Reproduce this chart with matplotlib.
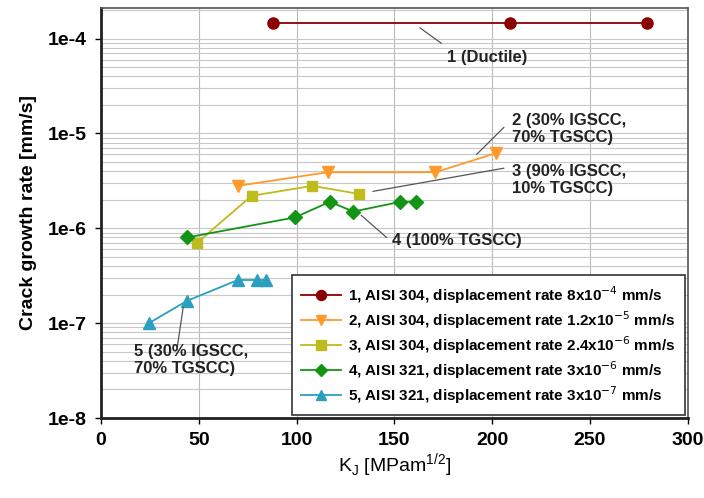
import matplotlib
matplotlib.use('Agg')
import matplotlib.pyplot as plt
from matplotlib.ticker import LogLocator, FixedLocator

plt.rcParams['font.family'] = ['Liberation Sans', 'DejaVu Sans']

# K_J [MPam^1/2] and crack growth rate [mm/s] per test
k1 = [88, 209, 279]
v1 = [1.45e-4, 1.45e-4, 1.45e-4]
k2 = [70, 116, 171, 202]
v2 = [2.8e-6, 3.9e-6, 3.9e-6, 6.2e-6]
k3 = [49, 77, 108, 132]
v3 = [0.7e-6, 2.2e-6, 2.8e-6, 2.3e-6]
k4 = [44, 99, 117, 129, 153, 161]
v4 = [0.8e-6, 1.3e-6, 1.9e-6, 1.5e-6, 1.9e-6, 1.9e-6]
k5 = [24.5, 44, 70, 79.5, 84.5]
v5 = [1.0e-7, 1.72e-7, 2.85e-7, 2.85e-7, 2.85e-7]

labels = [
    r'1, AISI 304, displacement rate 8x10$^{-4}$ mm/s',
    r'2, AISI 304, displacement rate 1.2x10$^{-5}$ mm/s',
    r'3, AISI 304, displacement rate 2.4x10$^{-6}$ mm/s',
    r'4, AISI 321, displacement rate 3x10$^{-6}$ mm/s',
    r'5, AISI 321, displacement rate 3x10$^{-7}$ mm/s',
]

fig = plt.figure(figsize=(7.04, 4.98), dpi=100)
ax = fig.add_axes([0.1435, 0.1606, 0.8335, 0.8234])

ax.plot(k1, v1, '-o', color='#8b0000', ms=8, lw=1.3, label=labels[0])
ax.plot(k2, v2, '-v', color='#ff9a2a', ms=8, lw=1.3, label=labels[1])
ax.plot(k3, v3, '-s', color='#bdbb1e', ms=7.5, lw=1.3, label=labels[2])
ax.plot(k4, v4, '-D', color='#149414', ms=7, lw=1.3, label=labels[3])
ax.plot(k5, v5, '-^', color='#2a9fbf', ms=8, lw=1.3, label=labels[4])

ax.set_yscale('log')
ax.set_xlim(0, 300)
ax.set_ylim(1e-8, 2.1e-4)
ax.xaxis.set_major_locator(FixedLocator([0, 50, 100, 150, 200, 250, 300]))
ax.yaxis.set_minor_locator(LogLocator(base=10, subs=range(2, 10), numticks=20))
ax.set_yticks([1e-8, 1e-7, 1e-6, 1e-5, 1e-4])
ax.set_yticklabels(['1e-8', '1e-7', '1e-6', '1e-5', '1e-4'])
ax.tick_params(axis='y', which='minor', length=0)
ax.tick_params(axis='both', which='major', length=4, width=1, labelsize=14, pad=6)
for t in ax.get_xticklabels() + ax.get_yticklabels():
    t.set_fontweight('bold')

ax.grid(True, axis='x', which='major', color='#b8b8b8', lw=0.8)
ax.grid(True, axis='y', which='both', color='#c8c8c8', lw=0.8)
ax.set_axisbelow(True)
for side in ['left', 'bottom']:
    ax.spines[side].set_linewidth(2)
    ax.spines[side].set_color('#222222')
for side in ['top', 'right']:
    ax.spines[side].set_linewidth(1.2)
    ax.spines[side].set_color('#555555')

ax.set_xlabel(r'K$_\mathregular{J}$ [MPam$^\mathregular{1/2}$]', fontsize=14, labelpad=2)
ax.set_ylabel('Crack growth rate [mm/s]', fontsize=14, fontweight='bold', labelpad=8)

# leader lines from curves to their notes
lkw = dict(arrowstyle='-', color='#555555', lw=0.9, shrinkA=0, shrinkB=0)
leaders = [((163, 1.3e-4), (174, 8.9e-5)),
           ((206, 1.16e-5), (192, 6.0e-6)),
           ((206, 4.3e-6), (139, 2.45e-6)),
           ((133, 1.37e-6), (146, 8.0e-7)),
           ((42, 1.47e-7), (39, 5.6e-8))]
for p0, p1 in leaders:
    ax.annotate('', xy=p1, xytext=p0, arrowprops=lkw)

tkw = dict(fontsize=12, fontweight='bold', color='#222222', ha='left', va='center',
           linespacing=1.15)
ax.text(177, 6.3e-5, '1 (Ductile)', **tkw)
ax.text(210, 1.12e-5, '2 (30% IGSCC,\n70% TGSCC)', **tkw)
ax.text(210, 3.2e-6, '3 (90% IGSCC,\n10% TGSCC)', **tkw)
ax.text(149, 7.5e-7, '4 (100% TGSCC)', **tkw)
ax.text(17, 4.1e-8, '5 (30% IGSCC,\n70% TGSCC)', **tkw)

leg = ax.legend(loc='lower right', bbox_to_anchor=(1.0, 0.0), borderaxespad=0.2,
                prop={'weight': 'bold', 'size': 11}, frameon=True, fancybox=False,
                edgecolor='#333333', framealpha=1, borderpad=0.6,
                labelspacing=0.22, handlelength=2.6, handletextpad=0.5,
                markerscale=0.9)
leg.get_frame().set_linewidth(1.2)

fig.savefig('out.png', dpi=100)
